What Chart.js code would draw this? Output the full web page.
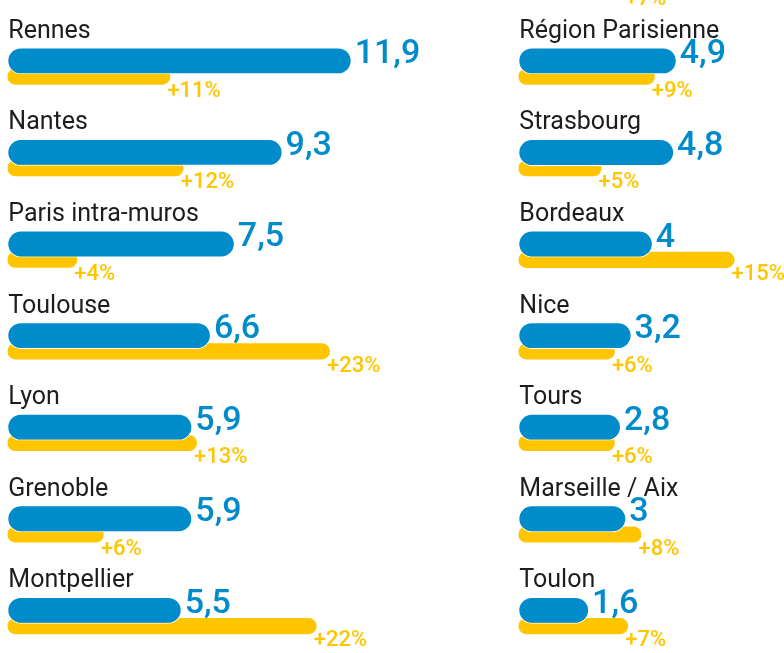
<!DOCTYPE html>
<html lang="fr">
<head>
<meta charset="utf-8">
<title>Villes</title>
<script src="https://cdn.jsdelivr.net/npm/chart.js@4/dist/chart.umd.min.js"></script>
<style>
  html, body { margin: 0; padding: 0; background: #fff; width: 784px; height: 653px; overflow: hidden; }
  .col { position: absolute; }
  #colGauche { left: 0; top: 0; width: 511px; height: 664px; }
  #colDroite { left: 511px; top: -92px; width: 273px; height: 756px; }
</style>
</head>
<body>
<div class="col" id="colGauche"><canvas id="graficoGauche"></canvas></div>
<div class="col" id="colDroite"><canvas id="graficoDroite"></canvas></div>

<script>
// Données - colonne de gauche
const villesGauche = ['Rennes', 'Nantes', 'Paris intra-muros', 'Toulouse', 'Lyon', 'Grenoble', 'Montpellier'];
const valeursGauche = [11.9, 9.3, 7.5, 6.6, 5.9, 5.9, 5.5];
const hausseGauche = [11, 12, 4, 23, 13, 6, 22];

// Données - colonne de droite (la première ligne est coupée en haut de l'image)
const villesDroite = ['', 'Région Parisienne', 'Strasbourg', 'Bordeaux', 'Nice', 'Tours', 'Marseille / Aix', 'Toulon'];
const valeursDroite = [null, 4.9, 4.8, 4, 3.2, 2.8, 3, 1.6];
const hausseDroite = [7, 9, 5, 15, 6, 6, 8, 7];

const BLEU = '#008bcb';
const JAUNE = '#ffc600';

// échelles : pixels par unité et départ des barres
const PX_BLEU = 26.56, MIN_BLEU = -1.066;
const PX_JAUNE = 13.3, MIN_JAUNE = -1.263;
const PAD_GAUCHE = 7.3;

// textes : nom de la ville, valeur bleue, pourcentage jaune
const textesBarres = {
    id: 'textesBarres',
    afterDatasetsDraw(chart) {
        const ctx = chart.ctx;
        const bleu = chart.getDatasetMeta(0).data;
        const jaune = chart.getDatasetMeta(1).data;
        const noms = chart.data.labels;
        const vals = chart.data.datasets[0].data;
        const pcts = chart.data.datasets[1].data;
        ctx.save();
        ctx.textAlign = 'left';
        ctx.textBaseline = 'alphabetic';
        noms.forEach((nom, i) => {
            const yb = bleu[i].y;
            if (nom) {
                ctx.font = '400 25px Roboto';
                ctx.fillStyle = '#1d1d1b';
                ctx.fillText(nom, chart.chartArea.left + 1, yb - 23);
            }
            if (vals[i] !== null) {
                ctx.font = '500 34px Roboto';
                ctx.fillStyle = BLEU;
                ctx.fillText(String(vals[i]).replace('.', ','), bleu[i].x + 3, yb + 2.5);
            }
            ctx.font = '500 22px Roboto';
            ctx.fillStyle = JAUNE;
            ctx.fillText('+' + pcts[i] + '%', jaune[i].x - 3, yb + 36);
        });
        ctx.restore();
    }
};

function creerGraphique(id, villes, valeurs, hausse, largeur, padHaut) {
    const largeurZone = largeur - PAD_GAUCHE;
    const ctx = document.getElementById(id).getContext('2d');
    return new Chart(ctx, {
        type: 'bar',
        data: {
            labels: villes,
            datasets: [{
                label: 'Valeur',
                data: valeurs,
                xAxisID: 'x',
                base: MIN_BLEU,
                backgroundColor: BLEU,
                borderColor: '#ffffff',
                borderWidth: 1,
                borderRadius: 14,
                borderSkipped: false,
                barPercentage: 1.7
            }, {
                label: 'Hausse',
                data: hausse,
                xAxisID: 'x2',
                base: MIN_JAUNE,
                backgroundColor: JAUNE,
                borderWidth: 0,
                borderRadius: 8,
                borderSkipped: false,
                barPercentage: 1.02
            }]
        },
        options: {
            indexAxis: 'y',
            responsive: true,
            maintainAspectRatio: false,
            animation: false,
            layout: { padding: { left: PAD_GAUCHE, right: 0, top: padHaut, bottom: 0 } },
            plugins: {
                legend: { display: false },
                tooltip: { enabled: false }
            },
            scales: {
                y: { display: false },
                x: {
                    display: false,
                    min: MIN_BLEU,
                    max: MIN_BLEU + largeurZone / PX_BLEU
                },
                x2: {
                    display: false,
                    position: 'top',
                    min: MIN_JAUNE,
                    max: MIN_JAUNE + largeurZone / PX_JAUNE
                }
            },
            datasets: {
                bar: { categoryPercentage: 0.345 }
            }
        },
        plugins: [textesBarres]
    });
}

document.fonts.load('25px Roboto').then(() => document.fonts.load('500 34px Roboto')).finally(() => {
    creerGraphique('graficoGauche', villesGauche, valeursGauche, hausseGauche, 511, 22.95);
    creerGraphique('graficoDroite', villesDroite, valeursDroite, hausseDroite, 273, 23.45);
});
</script>
</body>
</html>
